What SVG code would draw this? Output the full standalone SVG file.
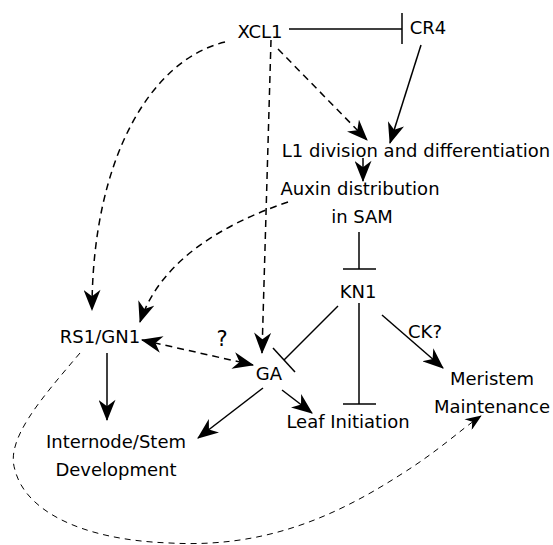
<svg xmlns="http://www.w3.org/2000/svg" width="553" height="545" viewBox="0 0 553 545">
<style>
text{font-family:"DejaVu Sans","Liberation Sans",sans-serif;font-size:18px;fill:#000;text-anchor:middle}
.s{fill:none;stroke:#000;stroke-width:1.5}
.d{fill:none;stroke:#000;stroke-width:1.5;stroke-dasharray:7,5}
.t{fill:none;stroke:#000;stroke-width:1;stroke-dasharray:6,5}
</style>
<defs>
<marker id="a" viewBox="0 0 20 16" refX="19" refY="8" markerWidth="22" markerHeight="17" markerUnits="userSpaceOnUse" orient="auto-start-reverse">
<path d="M20,8 L0,0 L6,8 L0,16 z" fill="#000"/>
</marker>
<marker id="b" viewBox="0 0 20 16" refX="19" refY="8" markerWidth="17" markerHeight="13" markerUnits="userSpaceOnUse" orient="auto">
<path d="M20,8 L0,0 L6,8 L0,16 z" fill="#000"/>
</marker>
</defs>
<g id="connectors">
<line class="s" x1="289" y1="29" x2="402" y2="29"/>
<line class="s" x1="402" y1="13" x2="402" y2="44"/>
<path class="d" d="M278,49 L367,140" marker-end="url(#a)"/>
<path class="s" d="M421,45 L390,143" marker-end="url(#a)"/>
<path class="s" d="M363,158 L363,181" marker-end="url(#a)"/>
<path class="d" d="M271,40 L262,353" marker-end="url(#a)"/>
<path class="d" d="M225,42 C150,60 92,160 92,310" marker-end="url(#a)"/>
<path class="d" d="M288,202 C220,225 160,262 140,322" marker-end="url(#a)"/>
<line class="s" x1="359" y1="232" x2="359" y2="269"/>
<line class="s" x1="343" y1="269" x2="376" y2="269"/>
<line class="s" x1="338" y1="306" x2="284" y2="360"/>
<line class="s" x1="273" y1="348" x2="295" y2="372"/>
<line class="s" x1="359" y1="303" x2="359" y2="404"/>
<line class="s" x1="343" y1="404" x2="376" y2="404"/>
<path class="s" d="M382,315 L443,368" marker-end="url(#a)"/>
<path class="d" d="M142,340 L253,365" marker-start="url(#a)" marker-end="url(#a)"/>
<path class="s" d="M107,353 L107,420" marker-end="url(#a)"/>
<path class="s" d="M263,388 L198,438" marker-end="url(#a)"/>
<path class="s" d="M282,390 L312,413" marker-end="url(#a)"/>
<path class="t" d="M80,353 C40,400 5,440 15,470 C25,510 80,540 170,543 C260,548 330,520 400,475 C440,450 460,430 481,416" marker-end="url(#b)"/>
</g>
<g id="XCL1"><text x="260" y="38">XCL1</text></g>
<g id="CR4"><text x="428" y="34">CR4</text></g>
<g id="L1"><text x="416" y="157">L1 division and differentiation</text></g>
<g id="Auxin"><text x="360" y="195">Auxin distribution</text><text x="362" y="223">in SAM</text></g>
<g id="KN1"><text x="358" y="298">KN1</text></g>
<g id="CK"><text x="425" y="338">CK?</text></g>
<g id="RS1"><text x="100" y="343">RS1/GN1</text></g>
<g id="Q"><text x="222" y="346" style="font-size:21px">?</text></g>
<g id="GA"><text x="269" y="380">GA</text></g>
<g id="Leaf"><text x="348" y="428">Leaf Initiation</text></g>
<g id="Meristem"><text x="492" y="385">Meristem</text><text x="492" y="413">Maintenance</text></g>
<g id="Internode"><text x="116" y="448">Internode/Stem</text><text x="116" y="476">Development</text></g>
</svg>
